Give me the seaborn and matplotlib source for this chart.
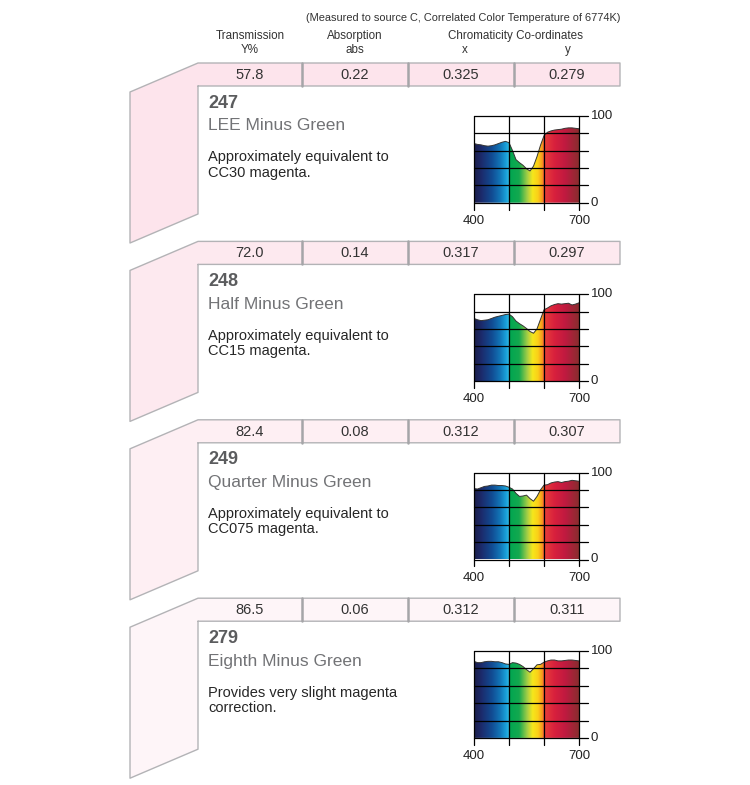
import numpy as np
import matplotlib.pyplot as plt
import seaborn as sns
from matplotlib.colors import LinearSegmentedColormap
from matplotlib.patches import Polygon

sns.set_theme(style="white")
plt.rcParams['font.family'] = ['Liberation Sans', 'DejaVu Sans']

# ---------------------------------------------------------------
# data
# ---------------------------------------------------------------
filter_codes = ["247", "248", "249", "279"]
filter_names = ["LEE Minus Green", "Half Minus Green",
                "Quarter Minus Green", "Eighth Minus Green"]
filter_notes = ["Approximately equivalent to\nCC30 magenta.",
                "Approximately equivalent to\nCC15 magenta.",
                "Approximately equivalent to\nCC075 magenta.",
                "Provides very slight magenta\ncorrection."]
transmission_y = ["57.8", "72.0", "82.4", "86.5"]
absorption = ["0.22", "0.14", "0.08", "0.06"]
chroma_x = ["0.325", "0.317", "0.312", "0.312"]
chroma_y = ["0.279", "0.297", "0.307", "0.311"]

wavelength = list(range(400, 701, 10))
trans_247 = [68, 67, 66.5, 65.5, 65, 65.5, 66.5, 68, 69.5, 70.5, 69,
             60, 49.5, 46, 43, 39, 36.5, 42, 53, 66, 77,
             81, 82.5, 83.5, 84, 84.5, 85.5, 86, 86, 85.5, 85]
trans_248 = [72, 70.5, 69.5, 70, 70.5, 72, 73.5, 74.5, 75.5, 76.5, 77,
             74, 69, 66, 63.5, 60.5, 57, 55, 60, 71, 82,
             84, 86.5, 88, 89, 88.5, 89, 89.5, 87.5, 88.5, 90]
trans_249 = [81.5, 81, 82.5, 84, 84.5, 85.5, 85.5, 85, 85, 84.5, 83,
             81, 76, 72.5, 73, 74, 70, 67, 72.5, 80, 85.5,
             86, 88, 89, 89.5, 88.5, 89.5, 90, 91, 90.5, 90]
trans_279 = [88, 86.5, 86.5, 87.5, 88, 88, 87.5, 87.5, 86.5, 85, 84.5,
             86.5, 86, 84.5, 82, 78.5, 75.5, 79.5, 84, 84.5, 87,
             88.5, 89.5, 89.5, 88.5, 88.5, 89, 89.5, 89.5, 89, 88.5]
curves = [trans_247, trans_248, trans_249, trans_279]

# ---------------------------------------------------------------
# layout (pixels of a 750 x 785 page)
# ---------------------------------------------------------------
W, H = 750, 785
STEP = 178.4
col_edges = [198, 302, 408, 514, 620]
col_mid = [(a + b) / 2 for a, b in zip(col_edges[:-1], col_edges[1:])]
pinks = ["#fde4ec", "#fde9ef", "#feeff3", "#fef5f8"]
edge = "#b3b3b6"

spec_cmap = LinearSegmentedColormap.from_list("spectrum", [
    (0.000, "#1b1d4a"), (0.070, "#1c2b6c"), (0.170, "#114c93"),
    (0.250, "#1277b8"), (0.307, "#1aa3dc"), (0.330, "#34b4e2"),
    (0.337, "#00a651"), (0.430, "#14a94f"), (0.510, "#a8cf45"),
    (0.560, "#f6e71b"), (0.610, "#fbcf18"), (0.655, "#f6921e"),
    (0.668, "#e8403a"), (0.770, "#d8203d"), (0.870, "#c01a40"),
    (1.000, "#8a2d2f")])

fig = plt.figure(figsize=(W / 100, H / 100), dpi=100)
bg = fig.add_axes([0, 0, 1, 1])
bg.set_xlim(0, W)
bg.set_ylim(H, 0)
bg.axis('off')

# header
txt = dict(color="#333333", fontsize=8.4, ha='center', va='center')
bg.text(620, 18, "(Measured to source C, Correlated Color Temperature of 6774K)",
        color="#333333", fontsize=7.9, ha='right', va='center')
bg.text(col_mid[0], 36, "Transmission", **txt)
bg.text(col_mid[0], 50, "Y%", **txt)
bg.text(col_mid[1], 36, "Absorption", **txt)
bg.text(col_mid[1], 50, "abs", **txt)
bg.text(515, 36, "Chromaticity Co-ordinates", **txt)
bg.text(465, 50, "x", **txt)
bg.text(568, 50, "y", **txt)

for i in range(4):
    o = i * STEP
    # pink folder shape + table row
    shape = [(130, 92 + o), (198, 63 + o), (620, 63 + o), (620, 86 + o),
             (198, 86 + o), (198, 214 + o), (130, 243 + o)]
    bg.add_patch(Polygon(shape, closed=True, facecolor=pinks[i],
                         edgecolor='none'))
    outline = [(198, 86 + o), (198, 214 + o), (130, 243 + o), (130, 92 + o),
               (198, 63 + o), (620, 63 + o), (620, 86 + o), (198, 86 + o)]
    xs, ys = zip(*outline)
    bg.plot(xs, ys, color=edge, lw=1.0)
    for xe in col_edges[1:-1]:
        bg.plot([xe, xe], [63 + o, 86 + o], color="#a5a5a8", lw=1.8)

    row_vals = [transmission_y[i], absorption[i], chroma_x[i], chroma_y[i]]
    for xm, v in zip(col_mid, row_vals):
        bg.text(xm, 75 + o, v, fontsize=10.5, color="#333333",
                ha='center', va='center')

    bg.text(208, 103 + o, filter_codes[i], fontsize=13, fontweight='bold',
            color="#5b5c5e", ha='left', va='center')
    bg.text(208, 126 + o, filter_names[i], fontsize=12.5, color="#727376",
            ha='left', va='center')
    bg.text(208, 165 + o, filter_notes[i], fontsize=10.5, color="#262626",
            ha='left', va='center', linespacing=1.12)

    # spectral transmission chart
    ax = fig.add_axes([474 / W, 1 - (202.7 + o) / H, 105 / W, 87 / H])
    trans = curves[i]
    grad = np.linspace(400, 700, 600).reshape(1, -1)
    im = ax.imshow(grad, cmap=spec_cmap, vmin=400, vmax=700,
                   extent=[400, 700, 0, 100], aspect='auto',
                   origin='lower', interpolation='bilinear')
    clip = Polygon(list(zip(wavelength, trans)) + [(700, 0), (400, 0)],
                   closed=True, facecolor='none', edgecolor='none',
                   transform=ax.transData)
    ax.add_patch(clip)
    im.set_clip_path(clip)
    sns.lineplot(x=wavelength, y=trans, ax=ax, color="#333333", lw=0.7)

    for v in range(0, 101, 20):
        ax.plot([400, 727], [v, v], color='black', lw=0.9, clip_on=False)
    for w in range(400, 701, 100):
        ax.plot([w, w], [-8, 100], color='black', lw=0.9, clip_on=False)
    ax.text(734, 100, "100", fontsize=9.5, color="#222222",
            ha='left', va='center')
    ax.text(734, 0, "0", fontsize=9.5, color="#222222",
            ha='left', va='center')
    ax.text(400, -21, "400", fontsize=9.5, color="#222222",
            ha='center', va='center')
    ax.text(700, -21, "700", fontsize=9.5, color="#222222",
            ha='center', va='center')
    ax.set_xlim(400, 700)
    ax.set_ylim(0, 100)
    ax.axis('off')

fig.savefig("out.png", dpi=100, facecolor='white')
